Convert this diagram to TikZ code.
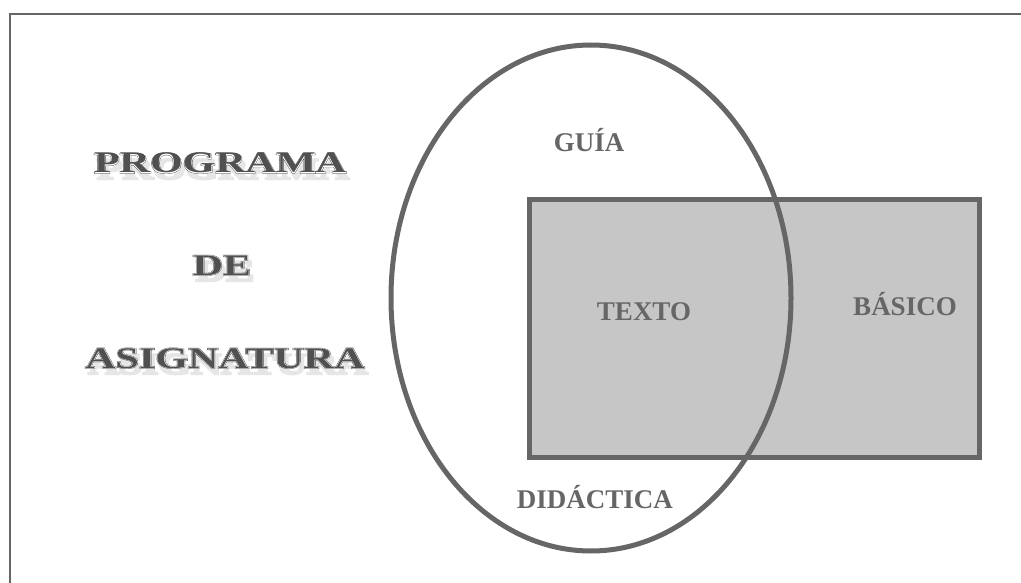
\documentclass[tikz,border=0pt]{standalone}
\usepackage{fontspec}
\setmainfont{Liberation Serif}
\newfontfamily\ttlS[FakeBold=7]{Liberation Serif}
\newfontfamily\ttlA[FakeBold=4]{Liberation Serif}
\newfontfamily\ttlB[FakeBold=2]{Liberation Serif}
\newfontfamily\ttlC{Liberation Serif}
\definecolor{lg}{HTML}{666666}
\definecolor{fillg}{HTML}{C6C6C6}
\definecolor{ttldark}{HTML}{3A3A3A}
\definecolor{ttlmid}{HTML}{505050}
\definecolor{shadowg}{HTML}{E6E6E6}
\newcommand{\ttlstack}[1]{%
  \rlap{\raisebox{-6pt}{\kern3pt\color{shadowg}\ttlS\bfseries\scalebox{1.4}[1]{#1}}}%
  \rlap{\color{ttldark}\ttlA\bfseries\scalebox{1.4}[1]{#1}}%
  \rlap{\color{white}\ttlB\bfseries\scalebox{1.4}[1]{#1}}%
  {\color{ttlmid}\ttlC\bfseries\scalebox{1.4}[1]{#1}}}
\begin{document}
\begin{tikzpicture}[x=1pt,y=-1pt,
  lbl/.style={anchor=base, text=lg, font=\bfseries\fontsize{27}{29}\selectfont, inner sep=0},
  ttl/.style={anchor=base, inner sep=0, font=\fontsize{30}{32}\selectfont},
  frameline/.style={draw=lg, line width=2pt}]
\useasboundingbox (0,0) rectangle (1021,583);
\fill[white] (0,0) rectangle (1021,583);
% frame
\draw[frameline] (10,590) -- (10,14) -- (1030,14);
% title
\node[ttl] (programa) at (220,173) {\ttlstack{PROGRAMA}};
\node[ttl] (de) at (222,275) {\ttlstack{DE}};
\node[ttl] (asignatura) at (225,368) {\ttlstack{ASIGNATURA}};
% rectangle
\node[draw=lg, fill=fillg, line width=5pt, minimum width=450pt, minimum height=258pt, inner sep=0, anchor=north west] (basico) at (527,197) {};
% ellipse
\draw[lg, line width=5pt] (591,298) ellipse [x radius=200, y radius=253];
% labels
\node[lbl] (guia) at (589,152) {GUÍA};
\node[lbl] (texto) at (644,320) {TEXTO};
\node[lbl] (basicot) at (905,315) {BÁSICO};
\node[lbl] (didactica) at (595,508) {DIDÁCTICA};
\end{tikzpicture}
\end{document}
